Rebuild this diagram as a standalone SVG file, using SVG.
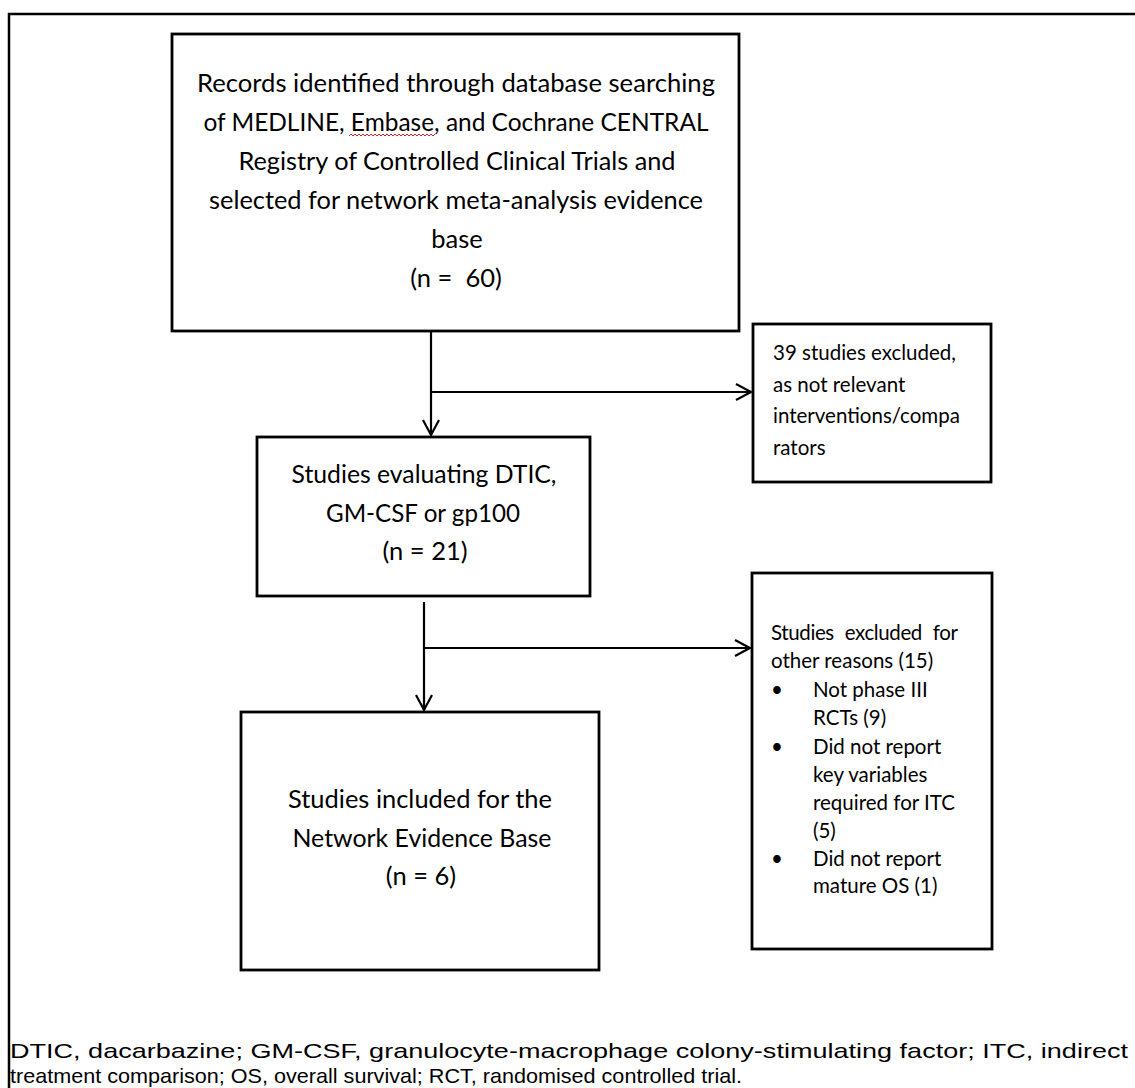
<svg xmlns="http://www.w3.org/2000/svg" width="1135" height="1088" viewBox="0 0 1135 1088">
<style>
.box{fill:#fff;stroke:#000;stroke-width:2.8}
.t{font-family:Lato,"Open Sans","Liberation Sans",sans-serif;fill:#000}
.big{font-size:25.5px;text-anchor:middle}
.sm{font-size:20.5px}
.line{fill:none;stroke:#000;stroke-width:2.2}
.foot{font-family:"Liberation Sans",Arial,sans-serif;font-size:21px;fill:#000}
</style>
<defs>
<marker id="arr" markerUnits="userSpaceOnUse" markerWidth="20" markerHeight="20" viewBox="-16 -10 20 20" refX="0" refY="0" orient="auto">
<path d="M-15,-8 L0,0 L-15,8" fill="none" stroke="#000" stroke-width="2.2"/>
</marker>
</defs>
<rect width="1135" height="1088" fill="#fff"/>
<path d="M9,1088 V14 H1135" fill="none" stroke="#000" stroke-width="2.5"/>

<g id="connectors">
<line class="line" x1="431" y1="331" x2="431" y2="435" marker-end="url(#arr)"/>
<line class="line" x1="431" y1="392" x2="751" y2="392" marker-end="url(#arr)"/>
<line class="line" x1="424" y1="602" x2="424" y2="710" marker-end="url(#arr)"/>
<line class="line" x1="424" y1="648" x2="750" y2="648" marker-end="url(#arr)"/>
</g>

<g id="records">
<rect class="box" x="172" y="34" width="567" height="297"/>
<text class="t big" x="456" y="92" textLength="518" lengthAdjust="spacingAndGlyphs">Records identified through database searching</text>
<text class="t big" x="456" y="131" textLength="505" lengthAdjust="spacingAndGlyphs">of MEDLINE, Embase, and Cochrane CENTRAL</text>
<path d="M349,136 l2,-2 l2,2 l2,-2 l2,2 l2,-2 l2,2 l2,-2 l2,2 l2,-2 l2,2 l2,-2 l2,2 l2,-2 l2,2 l2,-2 l2,2 l2,-2 l2,2 l2,-2 l2,2 l2,-2 l2,2 l2,-2 l2,2 l2,-2 l2,2 l2,-2 l2,2 l2,-2 l2,2 l2,-2 l2,2 l2,-2 l2,2 l2,-2 l2,2 l2,-2 l2,2 l2,-2 l2,2 l2,-2 l2,2 l2,-2" fill="none" stroke="#e02020" stroke-width="1"/>
<text class="t big" x="457" y="170" textLength="437" lengthAdjust="spacingAndGlyphs">Registry of Controlled Clinical Trials and</text>
<text class="t big" x="456" y="209" textLength="494" lengthAdjust="spacingAndGlyphs">selected for network meta-analysis evidence</text>
<text class="t big" x="457" y="248">base</text>
<text class="t big" x="456" y="287" xml:space="preserve">(n =  60)</text>
</g>

<g id="excluded1">
<rect class="box" x="753" y="324" width="238" height="158"/>
<text class="t sm" x="773" y="360">39 studies excluded,</text>
<text class="t sm" x="773" y="392">as not relevant</text>
<text class="t sm" x="773" y="423">interventions/compa</text>
<text class="t sm" x="773" y="455">rators</text>
</g>

<g id="evaluating">
<rect class="box" x="257" y="437" width="333" height="159"/>
<text class="t big" x="424" y="483" textLength="265" lengthAdjust="spacingAndGlyphs">Studies evaluating DTIC,</text>
<text class="t big" x="423" y="522" textLength="194" lengthAdjust="spacingAndGlyphs">GM-CSF or gp100</text>
<text class="t big" x="425" y="560">(n = 21)</text>
</g>

<g id="excluded2">
<rect class="box" x="752" y="573" width="240" height="376"/>
<text class="t sm" x="771" y="640" textLength="187" lengthAdjust="spacing" word-spacing="6">Studies excluded for</text>
<text class="t sm" x="771" y="668">other reasons (15)</text>
<text class="t sm" x="771" y="697">•</text>
<text class="t sm" x="813" y="697">Not phase III</text>
<text class="t sm" x="813" y="725">RCTs (9)</text>
<text class="t sm" x="771" y="754">•</text>
<text class="t sm" x="813" y="754">Did not report</text>
<text class="t sm" x="813" y="782">key variables</text>
<text class="t sm" x="813" y="810">required for ITC</text>
<text class="t sm" x="813" y="838">(5)</text>
<text class="t sm" x="771" y="866">•</text>
<text class="t sm" x="813" y="866">Did not report</text>
<text class="t sm" x="813" y="893">mature OS (1)</text>
</g>

<g id="included">
<rect class="box" x="241" y="712" width="358" height="258"/>
<text class="t big" x="420" y="808" textLength="264" lengthAdjust="spacingAndGlyphs">Studies included for the</text>
<text class="t big" x="422" y="847" textLength="259" lengthAdjust="spacingAndGlyphs">Network Evidence Base</text>
<text class="t big" x="421" y="885">(n = 6)</text>
</g>

<g id="footnote">
<text class="foot" x="10" y="1058" textLength="1118" lengthAdjust="spacingAndGlyphs">DTIC, dacarbazine; GM-CSF, granulocyte-macrophage colony-stimulating factor; ITC, indirect</text>
<text class="foot" x="10" y="1083" textLength="732" lengthAdjust="spacingAndGlyphs">treatment comparison; OS, overall survival; RCT, randomised controlled trial.</text>
</g>
</svg>
